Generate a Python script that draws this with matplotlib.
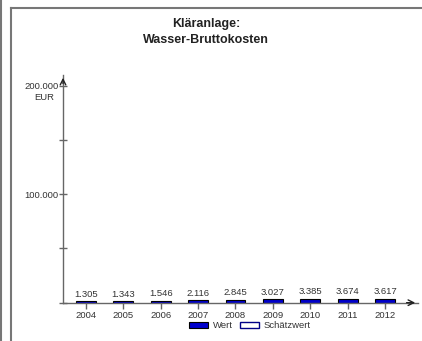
import matplotlib.pyplot as plt
from matplotlib.lines import Line2D
from matplotlib.patches import Patch

years = ["2004", "2005", "2006", "2007", "2008", "2009", "2010", "2011", "2012"]
werte = [1305, 1343, 1546, 2116, 2845, 3027, 3385, 3674, 3617]
labels = ["1.305", "1.343", "1.546", "2.116", "2.845", "3.027", "3.385", "3.674", "3.617"]

plt.rcParams['font.family'] = ['Liberation Sans', 'DejaVu Sans']
grey = '#666666'
txt = '#333333'
fs = 6.8

fig = plt.figure(figsize=(4.22, 3.41), dpi=100)
W, H = 422, 341

# outer frame lines
fig.add_artist(Line2D([1 / W, 1 / W], [0, 1], color='#777777', lw=1.5))
fig.add_artist(Line2D([10.5 / W, 10.5 / W], [0, 1 - 8 / H], color='#777777', lw=1.5))
fig.add_artist(Line2D([10.5 / W, 1], [1 - 8 / H, 1 - 8 / H], color='#777777', lw=1.5))

fig.text(206 / W, 1 - 24 / H, "Kläranlage:", ha='center', va='center',
         fontsize=9, fontweight='bold', color='#222222')
fig.text(206 / W, 1 - 40 / H, "Wasser-Bruttokosten", ha='center', va='center',
         fontsize=9, fontweight='bold', color='#222222')

ax = fig.add_axes([63 / W, (H - 302.7) / H, (418 - 63) / W, (302.7 - 75) / H])
x = list(range(len(years)))
ax.bar(x, werte, width=0.53, color='#0000cc', edgecolor='black', linewidth=0.8)
for xi, v, lab in zip(x, werte, labels):
    ax.text(xi, v + 2500, lab, ha='center', va='bottom', fontsize=fs, color=txt)

ax.set_xlim(-0.61, 8.88)
ax.set_ylim(0, 209800)
for s in ['top', 'right']:
    ax.spines[s].set_visible(False)
for s in ['left', 'bottom']:
    ax.spines[s].set_color(grey)
    ax.spines[s].set_linewidth(1)

ax.set_xticks(x)
ax.set_xticklabels(years, fontsize=fs, color=txt)
ax.tick_params(axis='x', length=4, width=1, color=grey, pad=2)
ax.set_yticks([0, 50000, 100000, 150000, 200000])
ax.set_yticklabels(["", "", "100.000", "", "200.000"], fontsize=fs, color=txt)
ax.tick_params(axis='y', direction='inout', length=6, width=1, color=grey, pad=0)
ax.text(-0.025, 200000 - 10500, "EUR", transform=ax.get_yaxis_transform(),
        ha='right', va='center', fontsize=fs, color=txt)

# axis arrows
ax.annotate('', xy=(1.0, 0), xytext=(0.96, 0), xycoords='axes fraction',
            arrowprops=dict(arrowstyle='->', color='#222222', lw=1))
ax.annotate('', xy=(0, 1.0), xytext=(0, 0.95), xycoords='axes fraction',
            arrowprops=dict(arrowstyle='->', color='#222222', lw=1))

handles = [Patch(facecolor='#0000cc', edgecolor='black', lw=0.8, label='Wert'),
           Patch(facecolor='white', edgecolor='#000088', lw=1, label='Schätzwert')]
fig.legend(handles=handles, loc='center', bbox_to_anchor=(250 / W, 1 - 326 / H),
           ncol=2, frameon=False, fontsize=fs, handlelength=2.0, handleheight=0.5,
           handletextpad=0.5, columnspacing=0.8, labelcolor=txt)

fig.savefig('out.png', dpi=100)
